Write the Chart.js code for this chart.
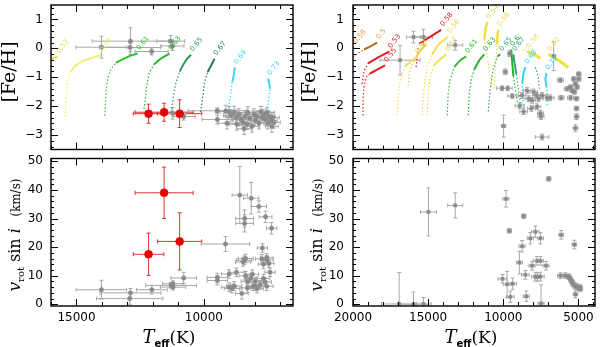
<!DOCTYPE html>
<html>
<head>
<meta charset="utf-8">
<script src="https://cdn.jsdelivr.net/npm/chart.js@4.4.1/dist/chart.umd.min.js"></script>
<style>
  body { margin: 0; background: #fff; }
  #wrap { position: relative; width: 600px; height: 347px; }
  #wrap canvas { position: absolute; }
</style>
</head>
<body>
<div id="wrap">
  <canvas id="feLeft" width="300" height="154" style="left:0;top:0"></canvas>
  <canvas id="vLeft" width="300" height="193" style="left:0;top:154px"></canvas>
  <canvas id="feRight" width="300" height="154" style="left:300px;top:0"></canvas>
  <canvas id="vRight" width="300" height="193" style="left:300px;top:154px"></canvas>
</div>
<script>
// rows are [Teff, value, Teff error, value error]
const leftFeGray = [
    [14020, 0.04, 1000, 0.38], [12880, 0.25, 1500, 0.46], [12890, 0.03, 1200, 0.15],
    [12050, -0.11, 650, 0.12], [11300, 0.25, 550, 0.2], [11230, 0.08, 450, 0.15],
    [11220, -2.25, 500, 0.2], [10790, -2.36, 450, 0.12], [9470, -2.16, 1150, 0.1],
    [9470, -2.46, 600, 0.15],
    [9140, -2.17, 400, 0.2], [9010, -2.19, 350, 0.18], [8930, -2.32, 300, 0.2],
    [8810, -2.22, 400, 0.22], [8730, -2.39, 300, 0.18], [8620, -2.29, 350, 0.2],
    [8540, -2.46, 300, 0.22], [8460, -2.56, 300, 0.2], [8380, -2.35, 350, 0.2],
    [8300, -2.63, 300, 0.18], [8270, -2.22, 400, 0.2], [8190, -2.42, 300, 0.2],
    [8110, -2.70, 300, 0.2], [8030, -2.29, 350, 0.2], [7990, -2.49, 300, 0.2],
    [7910, -2.36, 300, 0.2], [7840, -2.59, 300, 0.2], [7760, -2.19, 350, 0.18],
    [7720, -2.39, 300, 0.2], [7640, -2.29, 300, 0.18], [7600, -2.46, 300, 0.2],
    [7520, -2.22, 300, 0.18], [7480, -2.59, 300, 0.2], [7450, -2.36, 250, 0.18],
    [7370, -2.49, 250, 0.2], [7330, -2.70, 250, 0.2], [7290, -2.39, 250, 0.18],
    [7250, -2.56, 250, 0.2], [8700, -2.63, 300, 0.2], [8420, -2.78, 300, 0.2],
    [9090, -2.59, 350, 0.2]
];
const leftFeRed = [[12170, -2.26, 600, 0.33], [11560, -2.21, 1140, 0.31], [10950, -2.26, 870, 0.48]];
const leftVRed = [[12170, 17.5, 600, 7.4], [11560, 39, 1140, 9], [10950, 22, 870, 10]];
const leftVGray = [
    [14020, 5.1, 990, 3.3], [12880, 4.0, 1200, 1.5], [12910, 2.0, 1300, 2.0],
    [12040, 5.1, 600, 1.5], [11290, 6.6, 1000, 1.0], [11220, 7.2, 400, 1.0],
    [11210, 6.0, 500, 1.0], [10790, 9.2, 500, 2.0], [9470, 8.3, 400, 1.5],
    [9470, 9.4, 400, 1.5], [9150, 21.1, 950, 2.6], [8590, 38.2, 300, 10],
    [8140, 37.1, 300, 5.5], [8400, 30.0, 350, 3], [8400, 28.3, 350, 3],
    [7840, 34.2, 300, 2], [7575, 30.6, 250, 2], [7340, 26.6, 200, 2],
    [7700, 19.7, 200, 1.5], [9010, 10.6, 300, 1.5], [9010, 6.0, 300, 1.5],
    [8810, 6.4, 300, 1.5], [8900, 5.5, 300, 1.5], [8720, 11.2, 300, 1.5],
    [8510, 3.8, 250, 2], [8420, 15.4, 300, 1.5], [8360, 16.0, 300, 1.5],
    [8460, 14.8, 300, 1.5], [8360, 10.0, 250, 1.5], [8290, 8.0, 250, 1.5],
    [8290, 5.7, 250, 1.5], [8160, 9.0, 250, 1.5], [8100, 10.5, 250, 1.5],
    [8070, 6.3, 250, 1.5], [7980, 8.0, 250, 1.5], [7910, 5.5, 250, 1.5],
    [7790, 6.8, 250, 1.5], [7660, 9.0, 250, 1.5], [7600, 7.8, 250, 1.5],
    [7530, 6.3, 250, 1.5], [7720, 15.9, 250, 1.5], [7530, 16.3, 250, 1.5],
    [7530, 15.5, 250, 1.5], [7440, 14.3, 200, 1.5], [7660, 14.0, 200, 1.5],
    [7400, 11.2, 200, 1.5], [7980, 6.3, 250, 1.5]
];
const rightFeGray = [
    [16870, -0.41, 1330, 0.51], [15980, 0.39, 470, 0.2], [15310, 0.39, 600, 0.27],
    [13200, 0.11, 500, 0.17], [6650, -0.27, 150, 0.5], [9870, -0.81, 150, 0.1],
    [9580, -0.18, 120, 0.1], [10090, -1.38, 350, 0.08], [9710, -1.38, 300, 0.08],
    [9400, -1.65, 300, 0.08], [9980, -2.69, 150, 0.38], [8910, -1.99, 300, 0.1],
    [8750, -1.63, 250, 0.1], [8420, -1.46, 250, 0.1], [8310, -1.74, 250, 0.1],
    [8130, -2.08, 250, 0.1], [7980, -1.51, 250, 0.1], [7800, -1.63, 250, 0.1],
    [7650, -1.74, 250, 0.1], [7530, -2.25, 200, 0.1], [7490, -2.36, 200, 0.1],
    [8090, -1.80, 250, 0.1], [8650, -2.19, 250, 0.1], [7750, -2.02, 250, 0.1],
    [7420, -1.63, 250, 0.1], [7090, -1.71, 250, 0.1], [6870, -1.71, 250, 0.1],
    [7420, -3.07, 450, 0.1], [6200, -1.10, 200, 0.08], [6150, -1.71, 200, 0.08],
    [5530, -1.71, 200, 0.08], [5750, -1.40, 200, 0.08], [5310, -1.06, 150, 0.08],
    [5200, -1.23, 150, 0.08], [5090, -1.34, 150, 0.08], [5530, -1.34, 150, 0.08],
    [5420, -1.46, 150, 0.08], [5130, -1.74, 150, 0.08], [5130, -2.08, 150, 0.08],
    [5130, -2.36, 150, 0.1], [5200, -2.76, 150, 0.12], [4980, -1.06, 150, 0.08],
    [4980, -0.89, 150, 0.08], [5270, -1.51, 150, 0.08]
];
const rightVGray = [
    [16930, 0.1, 1170, 11], [15980, 0.0, 1000, 4.3], [15310, 0.1, 500, 2.3],
    [14980, 32.3, 530, 8.4], [13200, 34.6, 500, 4.4], [9820, 36.9, 200, 2.9],
    [9600, 25.7, 150, 0.8], [8640, 30.8, 150, 0.8], [6980, 43.9, 150, 0.8],
    [10050, 8.9, 300, 1.5], [9750, 7.0, 250, 4.5], [9530, 2.6, 250, 2],
    [9380, 7.2, 250, 2], [8930, 14.6, 200, 4], [8750, 20.3, 200, 2],
    [8470, 2.8, 200, 1.8], [8530, 10.3, 250, 1.5], [8200, 23.1, 200, 2],
    [8090, 13.5, 200, 1.5], [7870, 25.4, 250, 2], [7870, 9.7, 250, 1.5],
    [7760, 15.2, 250, 1.5], [7730, 9.5, 200, 1.5], [7530, 15.2, 200, 1.5],
    [7530, 23.1, 200, 2], [7530, 9.7, 250, 1.5], [7490, 0.3, 200, 6.5],
    [7160, 13.5, 200, 1.5], [6200, 10.0, 200, 1], [6150, 24.3, 150, 1.5],
    [5870, 10.0, 200, 1], [5650, 9.7, 150, 1], [5580, 9.2, 150, 1],
    [5490, 8.4, 150, 1], [5420, 7.8, 150, 1], [5360, 7.2, 150, 1],
    [5270, 6.6, 150, 1], [5180, 6.3, 150, 1], [5090, 6.0, 150, 1],
    [4980, 5.7, 150, 1], [4910, 6.0, 150, 1], [4870, 5.4, 150, 1],
    [5270, 20.9, 150, 1.5], [5200, 3.5, 150, 1.2]
];

// HB tracks: [Teff, [Fe/H]] points, dotted (early) and solid (late) parts
const leftTrackMass = ['0.53', '0.55', '0.61', '0.63', '0.65', '0.67', '0.69', '0.73'];
const leftTrackDotted = [
    [],
    [[15450, -2.36], [15420, -1.9], [15380, -1.4], [15330, -1.05], [15250, -0.82]],
    [[13890, -2.33], [13860, -1.9], [13830, -1.4], [13760, -1.0], [13650, -0.72], [13450, -0.5]],
    [[12350, -2.1], [12290, -1.7], [12240, -1.3], [12150, -0.85], [11950, -0.55]],
    [[11290, -2.2], [11200, -1.7], [11100, -1.2], [10950, -0.8]],
    [[10130, -2.2], [10050, -1.75], [9980, -1.2], [9850, -0.82]],
    [[9060, -2.3], [8980, -1.8], [8880, -1.15]],
    [[7500, -2.2], [7460, -1.8], [7400, -1.4]]
];
const leftTrackSolid = [
    [[16200, -0.42], [15980, -0.35], [15750, -0.29]],
    [[15250, -0.82], [15050, -0.6], [14800, -0.45], [14400, -0.33], [14050, -0.24]],
    [[13450, -0.5], [13200, -0.38], [12900, -0.26], [12600, -0.18]],
    [[11950, -0.55], [11700, -0.36], [11350, -0.18]],
    [[10950, -0.8], [10800, -0.55], [10650, -0.35], [10500, -0.22]],
    [[9850, -0.82], [9720, -0.6], [9580, -0.36]],
    [[8880, -1.15], [8820, -0.9], [8780, -0.66]],
    [[7400, -1.4], [7440, -1.2], [7470, -1.04]]
];
const leftTrackColors = ['#e8e040', '#f0f070', '#30c030', '#28b428', '#2e9a58', '#2a7a50', '#38d8e8', '#38d8e8'];
const leftTrackWidths = [2, 2, 2, 2, 2, 2, 2, 2];

const rightTrackMass = ['0.58', '0.5', '0.53', '0.55', '0.52', '', '0.58', '0.56', '0.57', '0.61', '0.63',
    '0.54', '0.58', '0.65', '0.6', '0.67', '0.58', '0.68', '', '0.62', '0.72'];
const rightTrackDotted = [
    [[20200, -0.2], [19900, 0.05]],
    [[20000, -0.31], [19670, -0.18], [19270, -0.04]],
    [[19400, -1.23], [19270, -0.79], [19000, -0.52]],
    [[19330, -2.32], [19330, -1.74], [19270, -1.33], [19130, -1.0], [18870, -0.87]],
    [[17070, -2.32], [17000, -1.74], [16930, -1.3], [16730, -0.89], [16530, -0.62]],
    [[16330, -1.3], [16270, -0.89], [16070, -0.55], [15800, -0.31]],
    [[15800, -0.65], [15730, -0.31], [15670, 0.03]],
    [[15400, -2.32], [15330, -1.74], [15200, -1.06], [15000, -0.55], [14730, -0.21]],
    [[15070, -2.32], [15000, -1.57], [14870, -0.99], [14600, -0.58]],
    [[13730, -2.32], [13670, -1.57], [13530, -1.06], [13270, -0.65]],
    [[12330, -2.32], [12270, -1.57], [12130, -1.06], [11930, -0.72]],
    [[10800, -1.3], [10930, -0.72], [11130, -0.11], [11270, 0.3]],
    [[10600, -1.4], [10530, -0.72], [10470, -0.21], [10400, 0.13]],
    [[11000, -2.19], [10870, -1.4], [10670, -0.72], [10400, -0.28]],
    [[9070, -1.86], [9200, -1.4], [9330, -0.96]],
    [[8870, -1.91], [9000, -1.4], [9130, -0.89]],
    [[8400, -0.11], [8730, -0.04]],
    [[8670, -2.08], [8730, -1.57], [8730, -1.23]],
    [[7870, -0.65], [7670, -0.99], [7600, -1.4]],
    [],
    [[7070, -1.97], [7070, -1.57], [7130, -1.33]]
];
const rightTrackSolid = [
    [],
    [[19270, -0.04], [18870, 0.06], [18400, 0.2]],
    [[19000, -0.52], [18330, -0.31], [17600, -0.11]],
    [[18870, -0.87], [18330, -0.72], [17870, -0.59]],
    [[16530, -0.62], [16200, -0.48], [15800, -0.31]],
    [[15800, -0.31], [15470, -0.04], [15130, 0.13]],
    [[15600, 0.16], [14870, 0.4], [14130, 0.64]],
    [[14730, -0.21], [14330, 0.13], [13670, 0.4]],
    [[14600, -0.58], [14200, -0.38], [13800, -0.21]],
    [[13270, -0.65], [12870, -0.41], [12470, -0.28]],
    [[11930, -0.72], [11600, -0.41], [11270, -0.21]],
    [[11270, 0.3], [11200, 0.64], [11070, 0.91]],
    [[10400, 0.13], [10400, 0.37], [10330, 0.64]],
    [[10400, -0.28], [10200, -0.21]],
    [[9330, -0.96], [9400, -0.55], [9470, -0.04]],
    [[9130, -0.89], [9270, -0.45], [9330, -0.21]],
    [[7530, -0.35], [7930, -0.21], [8400, -0.11]],
    [[8730, -1.23], [8670, -0.89], [8530, -0.65]],
    [],
    [[5670, -0.66], [6330, -0.41], [7000, -0.21]],
    [[7130, -1.33], [7200, -1.06], [7130, -0.86]]
];
const rightTrackColors = ['#e8b040', '#a87020', '#e02020', '#e02020', '#f0e050', '#f0d040', '#e02020',
    '#f0e050', '#f0e050', '#30c030', '#28b028', '#f0e040', '#f0e040', '#3aa080', '#22b030', '#3aa080',
    '#f0e040', '#30d8e8', '#3aa080', '#f0e040', '#30d8e8'];
const rightLabelColors = ['#e8a040', '#e0a040', '#e02020', '#e02020', '#e8d850', '', '#e02020',
    '#e8d850', '#e8d850', '#30c030', '#28b028', '#e8d850', '#e8d850', '#3aa080', '#22b030', '#3aa080',
    '#e8d850', '#30d8e8', '', '#e8d850', '#30d8e8'];
const rightTrackWidths = [2, 2, 2, 2, 2, 2, 2, 2, 2, 2, 2, 2.5, 2.5, 2, 2, 2, 3, 2, 2, 3, 2];

// axis ranges and labelled ticks
const leftTeffRange = [6500, 16000];
const rightTeffRange = [3900, 20000];
const leftTeffLabels = [10000, 15000];
const rightTeffLabels = [5000, 10000, 15000, 20000];
const feRange = [-3.5, 1.5];
const feLabels = [-3, -2, -1, 0, 1];
const vRange = [-0.6, 51];
const vLabels = [0, 10, 20, 30, 40, 50];

const tickFont = { family: 'DejaVu Sans', size: 12 };

const toXY = rows => rows.map(r => ({ x: r[0], y: r[1] }));

function pointSet(rows, color, errColor, radius, style) {
    return {
        data: toXY(rows),
        errX: rows.map(r => r[2]),
        errY: rows.map(r => r[3]),
        errColor: errColor,
        showLine: false,
        pointStyle: style,
        pointRadius: radius,
        pointBackgroundColor: color,
        pointBorderColor: color,
        pointBorderWidth: 0.5
    };
}

function trackSets(mass, dotted, solid, colors, labelColors, widths) {
    const sets = [];
    mass.forEach((m, i) => {
        if (dotted[i].length) {
            sets.push({
                data: toXY(dotted[i]), showLine: true, pointRadius: 0,
                borderColor: colors[i], borderWidth: 1.2, borderDash: [1.5, 2],
                mass: solid[i].length ? '' : m, labelColor: labelColors[i]
            });
        }
        if (solid[i].length) {
            sets.push({
                data: toXY(solid[i]), showLine: true, pointRadius: 0,
                borderColor: colors[i], borderWidth: widths[i],
                mass: m, labelColor: labelColors[i]
            });
        }
    });
    return sets;
}

const errorBars = {
    id: 'errorBars',
    beforeDatasetsDraw(chart) {
        const { ctx, chartArea: a, scales: { x, y } } = chart;
        ctx.save();
        ctx.beginPath();
        ctx.rect(a.left, a.top, a.right - a.left, a.bottom - a.top);
        ctx.clip();
        chart.data.datasets.forEach(ds => {
            if (!ds.errX) return;
            ctx.strokeStyle = ds.errColor;
            ctx.lineWidth = 1;
            ds.data.forEach((p, i) => {
                const px = x.getPixelForValue(p.x), py = y.getPixelForValue(p.y);
                const x0 = x.getPixelForValue(p.x - ds.errX[i]), x1 = x.getPixelForValue(p.x + ds.errX[i]);
                const y0 = y.getPixelForValue(p.y - ds.errY[i]), y1 = y.getPixelForValue(p.y + ds.errY[i]);
                ctx.beginPath();
                ctx.moveTo(x0, py); ctx.lineTo(x1, py);
                ctx.moveTo(px, y0); ctx.lineTo(px, y1);
                ctx.moveTo(x0, py - 2); ctx.lineTo(x0, py + 2);
                ctx.moveTo(x1, py - 2); ctx.lineTo(x1, py + 2);
                ctx.moveTo(px - 2, y0); ctx.lineTo(px + 2, y0);
                ctx.moveTo(px - 2, y1); ctx.lineTo(px + 2, y1);
                ctx.stroke();
            });
        });
        ctx.restore();
    }
};

const massLabels = {
    id: 'massLabels',
    afterDatasetsDraw(chart) {
        const { ctx, scales: { x, y } } = chart;
        chart.data.datasets.forEach(ds => {
            if (!ds.mass) return;
            const end = ds.data[ds.data.length - 1];
            ctx.save();
            ctx.translate(x.getPixelForValue(end.x) + 2, y.getPixelForValue(end.y) - 3);
            ctx.rotate(-0.9);
            ctx.font = '7px "DejaVu Sans"';
            ctx.fillStyle = ds.labelColor;
            ctx.fillText(ds.mass, 0, 0);
            ctx.restore();
        });
    }
};

function tickMarks(ctx, a, scale, step, len) {
    const first = Math.ceil(scale.min / step - 1e-6);
    for (let k = first; k * step <= scale.max + 1e-6; k++) {
        const p = Math.round(scale.getPixelForValue(k * step)) + 0.5;
        ctx.beginPath();
        if (scale.isHorizontal()) {
            ctx.moveTo(p, a.bottom); ctx.lineTo(p, a.bottom - len);
            ctx.moveTo(p, a.top); ctx.lineTo(p, a.top + len);
        } else {
            ctx.moveTo(a.left, p); ctx.lineTo(a.left + len, p);
            ctx.moveTo(a.right, p); ctx.lineTo(a.right - len, p);
        }
        ctx.stroke();
    }
}

function drawRun(ctx, parts) {
    let total = 0;
    parts.forEach(p => { ctx.font = p[1]; total += ctx.measureText(p[0]).width; });
    let pos = -total / 2;
    parts.forEach(p => {
        ctx.font = p[1];
        ctx.fillText(p[0], pos, p[2]);
        pos += ctx.measureText(p[0]).width;
    });
}

const frame = {
    id: 'frame',
    afterDatasetsDraw(chart, args, opts) {
        const { ctx, chartArea: a, scales: { x, y } } = chart;
        ctx.save();
        ctx.strokeStyle = '#000';
        ctx.lineWidth = 1;
        tickMarks(ctx, a, x, opts.xMinor, 4);
        tickMarks(ctx, a, x, opts.xMajor, 7);
        tickMarks(ctx, a, y, opts.yMinor, 3);
        tickMarks(ctx, a, y, opts.yMajor, 7);
        ctx.lineWidth = 1.4;
        ctx.strokeRect(a.left, a.top, a.right - a.left, a.bottom - a.top);

        ctx.fillStyle = '#000';
        ctx.textAlign = 'left';
        ctx.textBaseline = 'alphabetic';
        ctx.save();
        ctx.translate(opts.yTitleX, opts.yTitleY);
        ctx.rotate(-Math.PI / 2);
        if (opts.yTitle === 'fe') {
            drawRun(ctx, [['[Fe/H]', '19px "DejaVu Serif"', 0]]);
        } else {
            drawRun(ctx, [
                ['v', 'italic 17px "DejaVu Serif"', 0],
                ['rot', '10px "DejaVu Serif"', 4],
                [' sin ', '16px "DejaVu Serif"', 0],
                ['i', 'italic 16px "DejaVu Serif"', 0],
                ['   ', '12px "DejaVu Serif"', 0],
                ['(km/s)', '12px "DejaVu Serif"', 0]
            ]);
        }
        ctx.restore();
        if (opts.xTitleX) {
            ctx.save();
            ctx.translate(opts.xTitleX, opts.xTitleY);
            drawRun(ctx, [
                ['T', 'italic 18px "DejaVu Serif"', 0],
                ['eff', 'bold 10px "DejaVu Sans"', 4],
                ['(K)', '17px "DejaVu Serif"', 0]
            ]);
            ctx.restore();
        }
        ctx.restore();
    }
};

const minus = v => String(v).replace('-', '\u2212');
const fixedTicks = values => scale => { scale.ticks = values.map(v => ({ value: v })); };

function makePanel(id, datasets, xr, xLabels, yr, yLabels, box) {
    return new Chart(document.getElementById(id), {
        type: 'scatter',
        data: { datasets: datasets },
        plugins: [errorBars, massLabels, frame],
        options: {
            responsive: false,
            devicePixelRatio: 1,
            animation: false,
            events: [],
            layout: { padding: box.padding },
            plugins: {
                legend: { display: false },
                tooltip: { enabled: false },
                frame: {
                    xMajor: 5000, xMinor: 1000, yMajor: box.yMajor, yMinor: box.yMinor,
                    yTitle: box.yTitle, yTitleX: box.yTitleX, yTitleY: box.yTitleY,
                    xTitleX: box.xTitleX, xTitleY: box.xTitleY
                }
            },
            scales: {
                x: {
                    type: 'linear', min: xr[0], max: xr[1], reverse: true,
                    display: box.showX,
                    grid: { display: false, drawTicks: false },
                    border: { display: false },
                    afterBuildTicks: fixedTicks(xLabels),
                    ticks: {
                        autoSkip: false, maxRotation: 0, padding: 5,
                        color: '#000', font: tickFont, callback: v => String(v)
                    },
                    afterFit(s) { s.height = box.xHeight; s.paddingLeft = 0; s.paddingRight = 0; }
                },
                y: {
                    type: 'linear', min: yr[0], max: yr[1],
                    grid: { display: false, drawTicks: false },
                    border: { display: false },
                    afterBuildTicks: fixedTicks(yLabels),
                    ticks: {
                        autoSkip: false, padding: box.yPad,
                        color: '#000', font: tickFont, callback: minus
                    },
                    afterFit(s) { s.width = box.yWidth; s.paddingTop = 0; s.paddingBottom = 0; }
                }
            }
        }
    });
}

makePanel('feLeft', [
    pointSet(leftFeRed, '#e80000', '#e03030', 4, 'circle'),
    pointSet(leftFeGray, '#8a8a8a', '#a8a8a8', 2.2, 'circle'),
    ...trackSets(leftTrackMass, leftTrackDotted, leftTrackSolid, leftTrackColors, leftTrackColors, leftTrackWidths)
], leftTeffRange, leftTeffLabels, feRange, feLabels, {
    padding: { top: 5, right: 7, bottom: 2, left: 0 }, showX: false, xHeight: 0,
    yWidth: 51, yPad: 8, yMajor: 1, yMinor: 0.2, yTitle: 'fe', yTitleX: 15, yTitleY: 72
});

makePanel('vLeft', [
    pointSet(leftVRed, '#e80000', '#e03030', 4, 'circle'),
    pointSet(leftVGray, '#8a8a8a', '#a8a8a8', 2.2, 'circle')
], leftTeffRange, leftTeffLabels, vRange, vLabels, {
    padding: { top: 1, right: 7, bottom: 0, left: 0 }, showX: true, xHeight: 41,
    yWidth: 51, yPad: 8, yMajor: 10, yMinor: 2, yTitle: 'v', yTitleX: 20, yTitleY: 81,
    xTitleX: 169, xTitleY: 189
});

makePanel('feRight', [
    pointSet(rightFeGray, '#8a8a8a', '#a8a8a8', 2.3, 'rect'),
    ...trackSets(rightTrackMass, rightTrackDotted, rightTrackSolid, rightTrackColors, rightLabelColors, rightTrackWidths)
], rightTeffRange, rightTeffLabels, feRange, feLabels, {
    padding: { top: 5, right: 5, bottom: 2, left: 0 }, showX: false, xHeight: 0,
    yWidth: 53, yPad: 9, yMajor: 1, yMinor: 0.2, yTitle: 'fe', yTitleX: 15, yTitleY: 72
});

makePanel('vRight', [
    pointSet(rightVGray, '#8a8a8a', '#a8a8a8', 2.3, 'rect')
], rightTeffRange, rightTeffLabels, vRange, vLabels, {
    padding: { top: 1, right: 5, bottom: 0, left: 0 }, showX: true, xHeight: 41,
    yWidth: 53, yPad: 9, yMajor: 10, yMinor: 2, yTitle: 'v', yTitleX: 22, yTitleY: 81,
    xTitleX: 171, xTitleY: 189
});
</script>
</body>
</html>
